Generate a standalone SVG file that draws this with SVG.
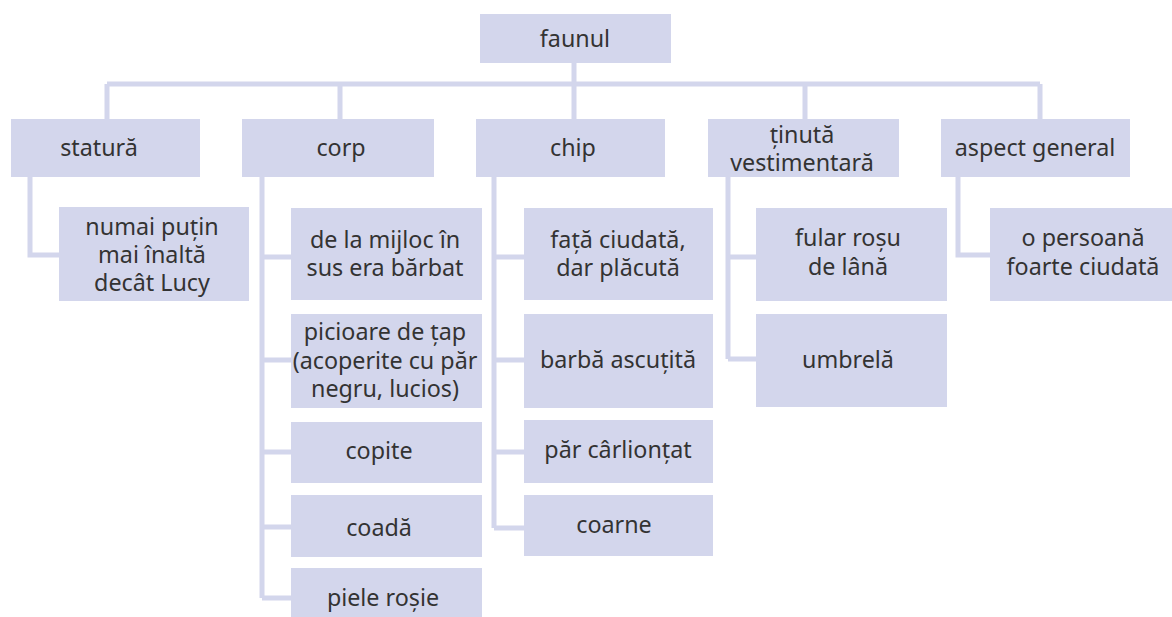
<svg xmlns="http://www.w3.org/2000/svg" width="1172" height="617" viewBox="0 0 1172 617">
<style>
.box{fill:#d3d6ec}
.t{font-family:"Noto Sans","Open Sans",sans-serif;font-size:23.3px;fill:#333;text-anchor:middle}
.c{fill:none;stroke:#d3d6ec;stroke-width:5}
</style>
<rect width="1172" height="617" fill="#fff"/>
<g id="connectors" class="c">
<path d="M574 63V84M107 84H1040M107 84V119M340 84V119M574 84V119M805 84V119M1040 84V119"/>
<path d="M30 177V255H59"/>
<path d="M262 177V598M262 257H291M262 360H291M262 452H291M262 527H291M262 598H291"/>
<path d="M494 177V528M494 257H524M494 360H524M494 452H524M494 528H524"/>
<path d="M728 177V359M728 257H756M728 359H756"/>
<path d="M958 177V255H990"/>
</g>
<g id="faunul"><rect class="box" x="480" y="14" width="191" height="49"/><text class="t" x="575" y="47">faunul</text></g>
<g id="statura"><rect class="box" x="11" y="119" width="189" height="58"/><text class="t" x="99" y="156">statură</text></g>
<g id="corp"><rect class="box" x="242" y="119" width="192" height="58"/><text class="t" x="341" y="156">corp</text></g>
<g id="chip"><rect class="box" x="476" y="119" width="189" height="58"/><text class="t" x="573" y="156">chip</text></g>
<g id="tinuta"><rect class="box" x="708" y="119" width="191" height="58"/><text class="t" x="802" y="143">ținută</text><text class="t" x="802" y="171">vestimentară</text></g>
<g id="aspect"><rect class="box" x="941" y="119" width="189" height="58"/><text class="t" x="1035" y="156">aspect general</text></g>
<g id="statura1"><rect class="box" x="59" y="207" width="190" height="94"/><text class="t" x="152" y="235">numai puțin</text><text class="t" x="152" y="263">mai înaltă</text><text class="t" x="152" y="291">decât Lucy</text></g>
<g id="corp1"><rect class="box" x="291" y="208" width="191" height="92"/><text class="t" x="385" y="248">de la mijloc în</text><text class="t" x="385" y="276">sus era bărbat</text></g>
<g id="corp2"><rect class="box" x="291" y="314" width="191" height="94"/><text class="t" x="385" y="340">picioare de țap</text><text class="t" x="385" y="369">(acoperite cu păr</text><text class="t" x="385" y="397">negru, lucios)</text></g>
<g id="corp3"><rect class="box" x="291" y="422" width="191" height="61"/><text class="t" x="379" y="459">copite</text></g>
<g id="corp4"><rect class="box" x="291" y="495" width="191" height="62"/><text class="t" x="379" y="536">coadă</text></g>
<g id="corp5"><rect class="box" x="291" y="568" width="191" height="60"/><text class="t" x="383" y="606">piele roșie</text></g>
<g id="chip1"><rect class="box" x="524" y="208" width="189" height="92"/><text class="t" x="618" y="248">față ciudată,</text><text class="t" x="618" y="276">dar plăcută</text></g>
<g id="chip2"><rect class="box" x="524" y="314" width="189" height="94"/><text class="t" x="618" y="368">barbă ascuțită</text></g>
<g id="chip3"><rect class="box" x="524" y="420" width="189" height="63"/><text class="t" x="618" y="458">păr cârlionțat</text></g>
<g id="chip4"><rect class="box" x="524" y="495" width="189" height="61"/><text class="t" x="614" y="533">coarne</text></g>
<g id="tinuta1"><rect class="box" x="756" y="208" width="191" height="93"/><text class="t" x="848" y="246">fular roșu</text><text class="t" x="848" y="275">de lână</text></g>
<g id="tinuta2"><rect class="box" x="756" y="314" width="191" height="93"/><text class="t" x="848" y="368">umbrelă</text></g>
<g id="aspect1"><rect class="box" x="990" y="208" width="190" height="93"/><text class="t" x="1083" y="246">o persoană</text><text class="t" x="1083" y="275">foarte ciudată</text></g>
</svg>
